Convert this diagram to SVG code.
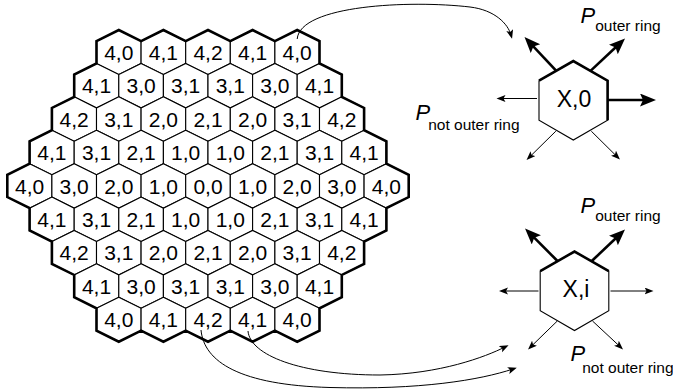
<svg xmlns="http://www.w3.org/2000/svg" xmlns:xlink="http://www.w3.org/1999/xlink" width="673" height="392" viewBox="0 0 673 392">
  <style>
    .cell { fill: #fff; stroke: #000; stroke-width: 1.1; }
    .lbl { font-family: "Liberation Sans", Arial, sans-serif; font-size: 21px; text-anchor: middle; fill: #000; }
    .rim { fill: none; stroke: #000; stroke-width: 2.6; stroke-linejoin: miter; }
    .node { fill: #fff; stroke: #000; stroke-width: 1.1; }
    .node-rim { fill: none; stroke: #000; stroke-width: 2.6; stroke-linejoin: miter; }
    .node-txt { font-family: "Liberation Sans", Arial, sans-serif; font-size: 23px; text-anchor: middle; fill: #000; }
    .thick { fill: none; stroke: #000; stroke-width: 2.6; marker-end: url(#head-big); }
    .thin { fill: none; stroke: #000; stroke-width: 1; marker-end: url(#head-small); }
    .p { font-family: "Liberation Sans", Arial, sans-serif; font-size: 22px; font-style: italic; fill: #000; }
    .sub { font-size: 15.5px; font-style: normal; }
  </style>
  <defs>
    <polygon id="hex" points="0,-22.25 22.3,-11.15 22.3,11.15 0,22.25 -22.3,11.15 -22.3,-11.15"/>
    <marker id="head-big" markerUnits="userSpaceOnUse" markerWidth="18" markerHeight="14" refX="8" refY="6.5" orient="auto">
      <path d="M0,0 L16,6.5 L0,13 L3,6.5 Z" fill="#000"/>
    </marker>
    <marker id="head-small" markerUnits="userSpaceOnUse" markerWidth="11" markerHeight="8" refX="5" refY="3.5" orient="auto">
      <path d="M0,0 L9,3.5 L0,7 L2,3.5 Z" fill="#000"/>
    </marker>
  </defs>

  <!-- hexagonal board -->
  <g id="board">
    <!-- row 0 -->
    <g id="c0-0"><use href="#hex" x="118.8" y="52.3" class="cell"/><text class="lbl" x="118.8" y="60">4,0</text></g>
    <g id="c0-1"><use href="#hex" x="163.4" y="52.3" class="cell"/><text class="lbl" x="163.4" y="60">4,1</text></g>
    <g id="c0-2"><use href="#hex" x="208" y="52.3" class="cell"/><text class="lbl" x="208" y="60">4,2</text></g>
    <g id="c0-3"><use href="#hex" x="252.6" y="52.3" class="cell"/><text class="lbl" x="252.6" y="60">4,1</text></g>
    <g id="c0-4"><use href="#hex" x="297.2" y="52.3" class="cell"/><text class="lbl" x="297.2" y="60">4,0</text></g>
    <!-- row 1 -->
    <g id="c1-0"><use href="#hex" x="96.5" y="85.7" class="cell"/><text class="lbl" x="96.5" y="93.4">4,1</text></g>
    <g id="c1-1"><use href="#hex" x="141.1" y="85.7" class="cell"/><text class="lbl" x="141.1" y="93.4">3,0</text></g>
    <g id="c1-2"><use href="#hex" x="185.7" y="85.7" class="cell"/><text class="lbl" x="185.7" y="93.4">3,1</text></g>
    <g id="c1-3"><use href="#hex" x="230.3" y="85.7" class="cell"/><text class="lbl" x="230.3" y="93.4">3,1</text></g>
    <g id="c1-4"><use href="#hex" x="274.9" y="85.7" class="cell"/><text class="lbl" x="274.9" y="93.4">3,0</text></g>
    <g id="c1-5"><use href="#hex" x="319.5" y="85.7" class="cell"/><text class="lbl" x="319.5" y="93.4">4,1</text></g>
    <!-- row 2 -->
    <g id="c2-0"><use href="#hex" x="74.2" y="119.1" class="cell"/><text class="lbl" x="74.2" y="126.8">4,2</text></g>
    <g id="c2-1"><use href="#hex" x="118.8" y="119.1" class="cell"/><text class="lbl" x="118.8" y="126.8">3,1</text></g>
    <g id="c2-2"><use href="#hex" x="163.4" y="119.1" class="cell"/><text class="lbl" x="163.4" y="126.8">2,0</text></g>
    <g id="c2-3"><use href="#hex" x="208" y="119.1" class="cell"/><text class="lbl" x="208" y="126.8">2,1</text></g>
    <g id="c2-4"><use href="#hex" x="252.6" y="119.1" class="cell"/><text class="lbl" x="252.6" y="126.8">2,0</text></g>
    <g id="c2-5"><use href="#hex" x="297.2" y="119.1" class="cell"/><text class="lbl" x="297.2" y="126.8">3,1</text></g>
    <g id="c2-6"><use href="#hex" x="341.8" y="119.1" class="cell"/><text class="lbl" x="341.8" y="126.8">4,2</text></g>
    <!-- row 3 -->
    <g id="c3-0"><use href="#hex" x="51.9" y="152.5" class="cell"/><text class="lbl" x="51.9" y="160.2">4,1</text></g>
    <g id="c3-1"><use href="#hex" x="96.5" y="152.5" class="cell"/><text class="lbl" x="96.5" y="160.2">3,1</text></g>
    <g id="c3-2"><use href="#hex" x="141.1" y="152.5" class="cell"/><text class="lbl" x="141.1" y="160.2">2,1</text></g>
    <g id="c3-3"><use href="#hex" x="185.7" y="152.5" class="cell"/><text class="lbl" x="185.7" y="160.2">1,0</text></g>
    <g id="c3-4"><use href="#hex" x="230.3" y="152.5" class="cell"/><text class="lbl" x="230.3" y="160.2">1,0</text></g>
    <g id="c3-5"><use href="#hex" x="274.9" y="152.5" class="cell"/><text class="lbl" x="274.9" y="160.2">2,1</text></g>
    <g id="c3-6"><use href="#hex" x="319.5" y="152.5" class="cell"/><text class="lbl" x="319.5" y="160.2">3,1</text></g>
    <g id="c3-7"><use href="#hex" x="364.1" y="152.5" class="cell"/><text class="lbl" x="364.1" y="160.2">4,1</text></g>
    <!-- row 4 (middle) -->
    <g id="c4-0"><use href="#hex" x="29.6" y="185.9" class="cell"/><text class="lbl" x="29.6" y="193.6">4,0</text></g>
    <g id="c4-1"><use href="#hex" x="74.2" y="185.9" class="cell"/><text class="lbl" x="74.2" y="193.6">3,0</text></g>
    <g id="c4-2"><use href="#hex" x="118.8" y="185.9" class="cell"/><text class="lbl" x="118.8" y="193.6">2,0</text></g>
    <g id="c4-3"><use href="#hex" x="163.4" y="185.9" class="cell"/><text class="lbl" x="163.4" y="193.6">1,0</text></g>
    <g id="c4-4"><use href="#hex" x="208" y="185.9" class="cell"/><text class="lbl" x="208" y="193.6">0,0</text></g>
    <g id="c4-5"><use href="#hex" x="252.6" y="185.9" class="cell"/><text class="lbl" x="252.6" y="193.6">1,0</text></g>
    <g id="c4-6"><use href="#hex" x="297.2" y="185.9" class="cell"/><text class="lbl" x="297.2" y="193.6">2,0</text></g>
    <g id="c4-7"><use href="#hex" x="341.8" y="185.9" class="cell"/><text class="lbl" x="341.8" y="193.6">3,0</text></g>
    <g id="c4-8"><use href="#hex" x="386.4" y="185.9" class="cell"/><text class="lbl" x="386.4" y="193.6">4,0</text></g>
    <!-- row 5 -->
    <g id="c5-0"><use href="#hex" x="51.9" y="219.3" class="cell"/><text class="lbl" x="51.9" y="227">4,1</text></g>
    <g id="c5-1"><use href="#hex" x="96.5" y="219.3" class="cell"/><text class="lbl" x="96.5" y="227">3,1</text></g>
    <g id="c5-2"><use href="#hex" x="141.1" y="219.3" class="cell"/><text class="lbl" x="141.1" y="227">2,1</text></g>
    <g id="c5-3"><use href="#hex" x="185.7" y="219.3" class="cell"/><text class="lbl" x="185.7" y="227">1,0</text></g>
    <g id="c5-4"><use href="#hex" x="230.3" y="219.3" class="cell"/><text class="lbl" x="230.3" y="227">1,0</text></g>
    <g id="c5-5"><use href="#hex" x="274.9" y="219.3" class="cell"/><text class="lbl" x="274.9" y="227">2,1</text></g>
    <g id="c5-6"><use href="#hex" x="319.5" y="219.3" class="cell"/><text class="lbl" x="319.5" y="227">3,1</text></g>
    <g id="c5-7"><use href="#hex" x="364.1" y="219.3" class="cell"/><text class="lbl" x="364.1" y="227">4,1</text></g>
    <!-- row 6 -->
    <g id="c6-0"><use href="#hex" x="74.2" y="252.7" class="cell"/><text class="lbl" x="74.2" y="260.4">4,2</text></g>
    <g id="c6-1"><use href="#hex" x="118.8" y="252.7" class="cell"/><text class="lbl" x="118.8" y="260.4">3,1</text></g>
    <g id="c6-2"><use href="#hex" x="163.4" y="252.7" class="cell"/><text class="lbl" x="163.4" y="260.4">2,0</text></g>
    <g id="c6-3"><use href="#hex" x="208" y="252.7" class="cell"/><text class="lbl" x="208" y="260.4">2,1</text></g>
    <g id="c6-4"><use href="#hex" x="252.6" y="252.7" class="cell"/><text class="lbl" x="252.6" y="260.4">2,0</text></g>
    <g id="c6-5"><use href="#hex" x="297.2" y="252.7" class="cell"/><text class="lbl" x="297.2" y="260.4">3,1</text></g>
    <g id="c6-6"><use href="#hex" x="341.8" y="252.7" class="cell"/><text class="lbl" x="341.8" y="260.4">4,2</text></g>
    <!-- row 7 -->
    <g id="c7-0"><use href="#hex" x="96.5" y="286.1" class="cell"/><text class="lbl" x="96.5" y="293.8">4,1</text></g>
    <g id="c7-1"><use href="#hex" x="141.1" y="286.1" class="cell"/><text class="lbl" x="141.1" y="293.8">3,0</text></g>
    <g id="c7-2"><use href="#hex" x="185.7" y="286.1" class="cell"/><text class="lbl" x="185.7" y="293.8">3,1</text></g>
    <g id="c7-3"><use href="#hex" x="230.3" y="286.1" class="cell"/><text class="lbl" x="230.3" y="293.8">3,1</text></g>
    <g id="c7-4"><use href="#hex" x="274.9" y="286.1" class="cell"/><text class="lbl" x="274.9" y="293.8">3,0</text></g>
    <g id="c7-5"><use href="#hex" x="319.5" y="286.1" class="cell"/><text class="lbl" x="319.5" y="293.8">4,1</text></g>
    <!-- row 8 -->
    <g id="c8-0"><use href="#hex" x="118.8" y="319.5" class="cell"/><text class="lbl" x="118.8" y="327.2">4,0</text></g>
    <g id="c8-1"><use href="#hex" x="163.4" y="319.5" class="cell"/><text class="lbl" x="163.4" y="327.2">4,1</text></g>
    <g id="c8-2"><use href="#hex" x="208" y="319.5" class="cell"/><text class="lbl" x="208" y="327.2">4,2</text></g>
    <g id="c8-3"><use href="#hex" x="252.6" y="319.5" class="cell"/><text class="lbl" x="252.6" y="327.2">4,1</text></g>
    <g id="c8-4"><use href="#hex" x="297.2" y="319.5" class="cell"/><text class="lbl" x="297.2" y="327.2">4,0</text></g>

    <!-- heavy outline of the outer ring -->
    <path id="board-rim" class="rim" d="M96.5,41.15 L118.8,30.05 L141.1,41.15 L163.4,30.05 L185.7,41.15 L208,30.05 L230.3,41.15 L252.6,30.05 L274.9,41.15 L297.2,30.05 L319.5,41.15
      L319.5,63.45 L341.8,74.55 L341.8,96.85 L364.1,107.95 L364.1,130.25 L386.4,141.35 L386.4,163.65 L408.7,174.75 L408.7,197.05
      L386.4,208.15 L386.4,230.45 L364.1,241.55 L364.1,263.85 L341.8,274.95 L341.8,297.25 L319.5,308.35 L319.5,330.65
      L297.2,341.75 L274.9,330.65 L252.6,341.75 L230.3,330.65 L208,341.75 L185.7,330.65 L163.4,341.75 L141.1,330.65 L118.8,341.75 L96.5,330.65
      L96.5,308.35 L74.2,297.25 L74.2,274.95 L51.9,263.85 L51.9,241.55 L29.6,230.45 L29.6,208.15 L7.3,197.05 L7.3,174.75
      L29.6,163.65 L29.6,141.35 L51.9,130.25 L51.9,107.95 L74.2,96.85 L74.2,74.55 L96.5,63.45 Z"/>
  </g>

  <!-- corner cell of the outer ring -->
  <g id="node-x0">
    <polygon class="node" points="573.3,61 607.6,80.7 607.6,120.3 573.3,140 539,120.3 539,80.7"/>
    <polyline class="node-rim" points="539,80.7 573.3,61 607.6,80.7 607.6,120.3"/>
    <text class="node-txt" x="574" y="106.5">X,0</text>
  </g>

  <!-- edge cell of the outer ring -->
  <g id="node-xi">
    <polygon class="node" points="574.5,251.5 608.8,271.2 608.8,310.8 574.5,330.5 540.2,310.8 540.2,271.2"/>
    <polyline class="node-rim" points="540.2,271.2 574.5,251.5 608.8,271.2"/>
    <text class="node-txt" x="576" y="297">X,i</text>
  </g>

  <!-- connectors -->
  <g id="connectors">
    <!-- board to magnified cells -->
    <path class="thin" d="M297.2,39 C300,5 410,0 470,7 C495,10 508,24 511,35"/>
    <path class="thin" d="M248,331 C250,355 300,375 380,375 C440,374 485,357 505,347"/>
    <path class="thin" d="M201,330 C204,362 240,385 330,387.5 C420,390 480,380 513,369"/>

    <!-- transitions out of X,0 -->
    <line class="thick" x1="556.3" y1="70.8" x2="530" y2="42.8"/>
    <line class="thick" x1="590.5" y1="70.9" x2="619.2" y2="44"/>
    <line class="thick" x1="607.6" y1="100" x2="648" y2="100"/>
    <line class="thin" x1="537" y1="98.5" x2="500.5" y2="98.5"/>
    <line class="thin" x1="555.8" y1="131.2" x2="529.4" y2="157.2"/>
    <line class="thin" x1="591.3" y1="131.2" x2="617.1" y2="156.7"/>

    <!-- transitions out of X,i -->
    <line class="thick" x1="557.5" y1="261" x2="530.7" y2="234.2"/>
    <line class="thick" x1="591.8" y1="261" x2="619.2" y2="235"/>
    <line class="thin" x1="538.5" y1="291" x2="503" y2="291"/>
    <line class="thin" x1="610.5" y1="291" x2="649.5" y2="291"/>
    <line class="thin" x1="557.3" y1="321" x2="530.9" y2="346.7"/>
    <line class="thin" x1="592.5" y1="321" x2="620.1" y2="346.7"/>
  </g>

  <!-- probability labels -->
  <g id="labels">
    <text class="p" x="580.5" y="23">P<tspan class="sub" dy="8">outer ring</tspan></text>
    <text class="p" x="415.5" y="120">P<tspan class="sub" dx="-2" dy="9.5">not outer ring</tspan></text>
    <text class="p" x="580.5" y="213">P<tspan class="sub" dy="8">outer ring</tspan></text>
    <text class="p" x="570.5" y="361">P<tspan class="sub" dx="-3" dy="12">not outer ring</tspan></text>
  </g>
</svg>
